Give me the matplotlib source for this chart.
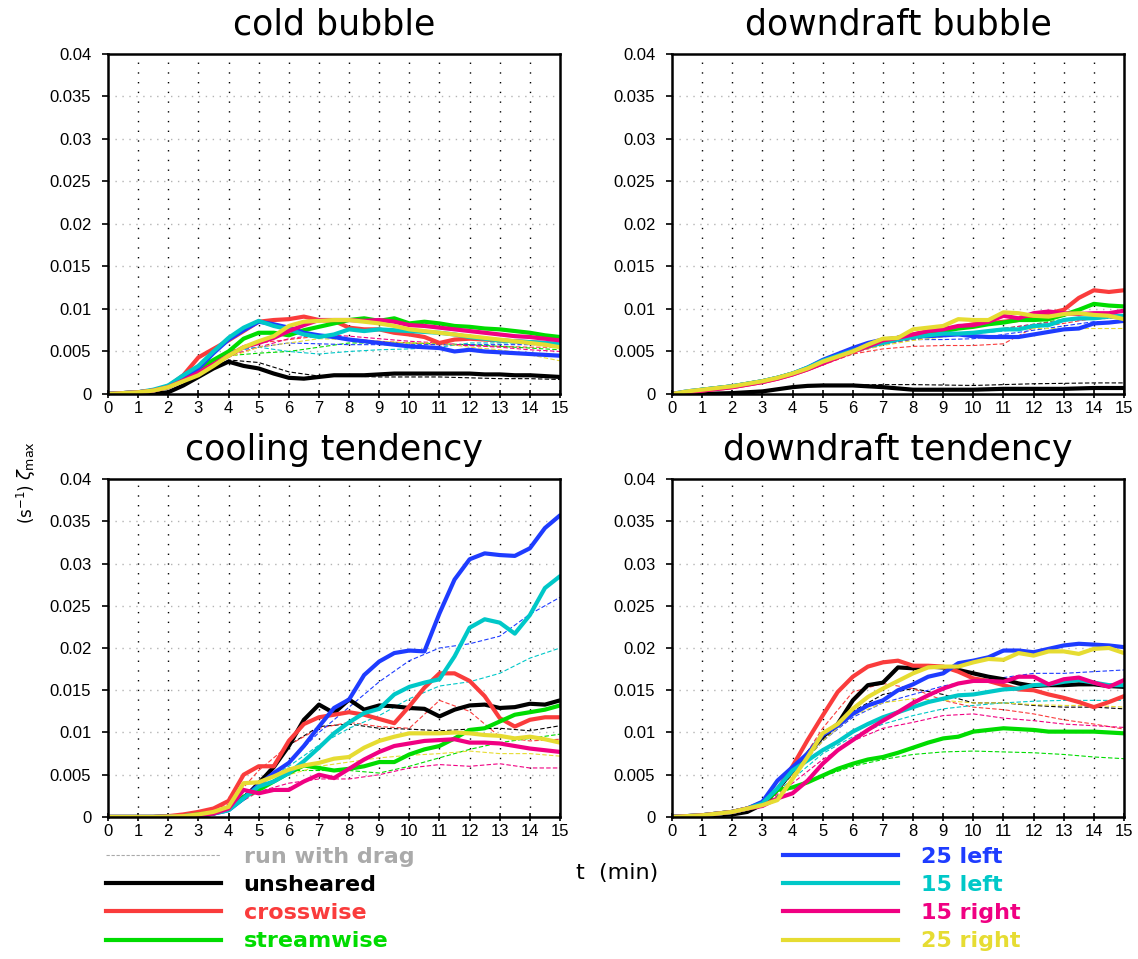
import numpy as np
import matplotlib
matplotlib.use('Agg')
import matplotlib.pyplot as plt
from matplotlib.lines import Line2D

# time axis (min): model output every 0.5 min, drag runs read every 1 min
t = np.linspace(0, 15, 31)
t_drag = np.arange(16)

names = ['unsheared', 'crosswise', 'streamwise', '25 left', '15 left', '15 right', '25 right']
colors = ['#000000', '#fa3c3c', '#00dc00', '#1e3cff', '#00c8c8', '#f00082', '#e6dc32']
titles = ['cold bubble', 'downdraft bubble', 'cooling tendency', 'downdraft tendency']

# max vorticity, units of 1e-3 s^-1 (rows in the order of `names`)
cold_bubble = [
    [0, 0, 0, 0, 0.2, 1.0, 2.0, 3.0, 3.8, 3.3, 3.0, 2.4, 1.9, 1.8, 2.0, 2.2, 2.2, 2.2, 2.3, 2.4, 2.4, 2.4, 2.4, 2.4, 2.4, 2.3, 2.3, 2.2, 2.2, 2.1, 2.0],
    [0, 0.1, 0.2, 0.4, 0.9, 2.2, 4.3, 5.3, 6.3, 7.4, 8.5, 8.7, 8.8, 9.1, 8.7, 8.6, 7.8, 7.6, 7.6, 7.2, 7.0, 6.7, 6.0, 6.4, 6.5, 6.4, 6.3, 6.2, 6.1, 6.0, 5.8],
    [0, 0.1, 0.2, 0.4, 0.8, 1.8, 3.0, 4.0, 5.0, 6.5, 7.2, 7.2, 6.9, 7.5, 7.9, 8.3, 8.7, 8.9, 8.6, 8.9, 8.3, 8.5, 8.3, 8.0, 7.9, 7.7, 7.6, 7.4, 7.2, 6.9, 6.7],
    [0, 0.1, 0.2, 0.4, 0.9, 2.0, 3.0, 4.8, 6.4, 7.5, 8.5, 8.2, 7.8, 7.2, 6.9, 6.7, 6.4, 6.2, 6.0, 5.8, 5.6, 5.5, 5.4, 5.0, 5.2, 5.0, 4.9, 4.8, 4.7, 4.6, 4.5],
    [0, 0.1, 0.2, 0.5, 1.0, 2.2, 3.3, 5.0, 6.6, 7.8, 8.6, 8.0, 7.6, 7.0, 6.7, 7.0, 7.6, 7.4, 7.6, 7.5, 7.4, 7.3, 7.2, 7.0, 6.7, 6.5, 6.3, 6.2, 6.1, 6.0, 5.9],
    [0, 0.1, 0.2, 0.4, 0.8, 1.6, 2.5, 3.5, 4.5, 5.5, 6.0, 6.6, 7.4, 8.1, 8.7, 8.7, 8.7, 8.6, 8.7, 8.5, 8.1, 8.0, 7.8, 7.6, 7.4, 7.2, 7.0, 6.8, 6.7, 6.5, 6.3],
    [0, 0.1, 0.2, 0.4, 0.8, 1.5, 2.2, 3.3, 4.5, 5.5, 6.2, 6.8, 8.0, 8.5, 8.6, 8.7, 8.7, 8.5, 8.3, 8.0, 7.6, 7.4, 7.2, 7.0, 6.8, 6.6, 6.4, 6.2, 6.0, 5.8, 5.5],
]
cold_bubble_drag = [
    [0, 0, 0.2, 2.0, 4.0, 3.7, 2.6, 2.1, 2.1, 2.0, 2.0, 2.0, 1.9, 1.8, 1.8, 1.7],
    [0, 0.2, 0.9, 3.0, 5.0, 6.0, 6.4, 6.8, 6.5, 6.2, 6.0, 5.8, 5.7, 5.6, 5.5, 5.5],
    [0, 0.2, 0.8, 2.8, 4.5, 4.8, 5.0, 5.5, 6.0, 6.0, 6.0, 5.9, 5.8, 5.6, 5.4, 5.2],
    [0, 0.2, 0.9, 3.0, 5.0, 5.5, 6.0, 5.9, 5.8, 5.8, 5.8, 5.8, 5.8, 5.8, 5.8, 5.8],
    [0, 0.2, 0.9, 3.0, 5.0, 5.5, 5.0, 4.7, 5.0, 5.2, 5.3, 5.5, 6.0, 6.0, 6.0, 6.0],
    [0, 0.2, 0.8, 2.6, 4.5, 5.5, 6.5, 7.0, 6.8, 6.5, 6.2, 6.0, 5.7, 5.5, 5.2, 5.0],
    [0, 0.2, 0.8, 2.5, 4.3, 5.5, 6.0, 6.5, 6.4, 6.2, 6.0, 6.0, 5.5, 5.2, 4.6, 3.9],
]

downdraft_bubble = [
    [0, 0, 0, 0.05, 0.1, 0.2, 0.3, 0.55, 0.8, 0.95, 1.0, 1.0, 1.0, 0.9, 0.8, 0.65, 0.5, 0.5, 0.5, 0.5, 0.5, 0.55, 0.6, 0.6, 0.6, 0.6, 0.6, 0.65, 0.7, 0.7, 0.7],
    [0, 0.2, 0.4, 0.6, 0.8, 1.1, 1.4, 1.8, 2.3, 2.9, 3.6, 4.3, 5.0, 5.6, 6.2, 6.6, 7.0, 7.3, 7.6, 7.9, 8.2, 8.3, 8.5, 8.7, 9.1, 9.5, 9.9, 11.3, 12.2, 12.0, 12.2],
    [0, 0.2, 0.5, 0.7, 0.9, 1.2, 1.5, 1.9, 2.4, 3.0, 3.8, 4.5, 5.1, 5.6, 6.2, 6.6, 6.9, 7.1, 7.4, 7.7, 7.9, 8.2, 8.4, 8.7, 8.7, 8.8, 9.3, 9.9, 10.6, 10.4, 10.3],
    [0, 0.3, 0.5, 0.7, 0.9, 1.2, 1.5, 1.9, 2.4, 3.1, 4.0, 4.7, 5.4, 6.0, 6.4, 6.6, 6.8, 6.8, 6.9, 7.0, 6.8, 6.7, 6.7, 6.7, 7.0, 7.3, 7.6, 7.7, 8.3, 8.4, 8.6],
    [0, 0.3, 0.5, 0.7, 0.9, 1.2, 1.5, 1.9, 2.4, 3.1, 3.9, 4.5, 5.1, 5.6, 6.0, 6.4, 6.7, 6.9, 7.1, 7.1, 7.2, 7.4, 7.6, 7.6, 8.0, 8.1, 8.7, 8.9, 8.9, 9.1, 9.2],
    [0, 0.2, 0.4, 0.6, 0.8, 1.1, 1.4, 1.8, 2.3, 2.9, 3.6, 4.3, 5.0, 5.6, 6.3, 6.6, 7.0, 7.4, 7.6, 8.0, 8.1, 8.5, 9.2, 8.9, 9.5, 9.7, 9.5, 9.4, 9.5, 9.5, 9.8],
    [0, 0.3, 0.5, 0.7, 0.9, 1.2, 1.5, 1.9, 2.4, 3.0, 3.8, 4.4, 5.0, 5.8, 6.5, 6.6, 7.6, 7.8, 8.0, 8.8, 8.7, 8.7, 9.6, 9.5, 9.2, 9.1, 9.4, 9.5, 9.3, 9.2, 8.8],
]
downdraft_bubble_drag = [
    [0, 0, 0.1, 0.4, 0.8, 1.0, 1.05, 1.1, 1.1, 1.05, 1.0, 1.1, 1.2, 1.25, 1.3, 1.3],
    [0, 0.4, 0.8, 1.4, 2.2, 3.4, 4.7, 5.3, 5.6, 5.7, 5.7, 5.9, 7.8, 8.3, 8.9, 9.1],
    [0, 0.4, 0.8, 1.5, 2.3, 3.7, 5.0, 5.9, 6.5, 6.9, 7.2, 7.7, 8.2, 8.8, 9.0, 9.3],
    [0, 0.4, 0.8, 1.5, 2.3, 3.7, 5.0, 5.9, 6.4, 6.4, 6.5, 7.0, 7.5, 8.0, 8.5, 8.5],
    [0, 0.4, 0.8, 1.5, 2.3, 3.7, 5.0, 5.9, 6.5, 6.8, 7.1, 7.4, 7.8, 8.6, 9.0, 9.3],
    [0, 0.4, 0.8, 1.4, 2.2, 3.5, 4.8, 5.8, 6.5, 6.9, 7.2, 7.7, 8.2, 8.6, 8.8, 9.0],
    [0, 0.4, 0.8, 1.5, 2.3, 3.6, 4.9, 5.7, 6.3, 6.7, 7.2, 7.5, 7.7, 7.7, 7.7, 7.7],
]

cooling_tendency = [
    [0, 0, 0, 0, 0, 0, 0.1, 0.4, 1.0, 2.2, 4.0, 5.9, 8.4, 11.5, 13.3, 12.3, 13.9, 12.7, 13.2, 13.1, 12.9, 12.8, 11.9, 12.7, 13.2, 13.3, 12.9, 13.0, 13.4, 13.3, 13.8],
    [0, 0, 0, 0, 0.1, 0.3, 0.6, 1.0, 1.9, 5.0, 6.0, 6.0, 9.0, 11.0, 11.8, 12.1, 12.4, 12.1, 11.6, 11.1, 13.1, 15.3, 17.0, 17.0, 16.1, 14.3, 11.7, 10.7, 11.5, 11.8, 11.8],
    [0, 0, 0, 0, 0.05, 0.1, 0.3, 0.5, 1.0, 2.4, 3.2, 4.2, 5.2, 6.1, 5.8, 5.5, 5.7, 6.0, 6.5, 6.5, 7.4, 8.0, 8.4, 9.3, 10.3, 10.5, 11.3, 12.1, 12.4, 12.7, 13.2],
    [0, 0, 0, 0, 0.05, 0.1, 0.2, 0.4, 0.8, 2.2, 3.8, 5.2, 6.4, 8.4, 10.7, 12.9, 13.9, 16.8, 18.4, 19.4, 19.7, 19.6, 24.1, 28.1, 30.5, 31.2, 31.0, 30.9, 31.8, 34.2, 35.7],
    [0, 0, 0, 0, 0.05, 0.1, 0.2, 0.4, 0.8, 2.2, 3.6, 4.2, 5.2, 6.6, 8.2, 9.9, 11.2, 12.3, 12.8, 14.5, 15.4, 15.9, 16.3, 19.0, 22.4, 23.4, 23.0, 21.7, 23.9, 27.1, 28.5],
    [0, 0, 0, 0, 0.05, 0.1, 0.2, 0.4, 1.0, 3.2, 2.8, 3.2, 3.2, 4.2, 5.0, 4.6, 5.7, 6.8, 7.7, 8.4, 8.7, 9.0, 9.1, 9.2, 8.8, 8.8, 8.7, 8.4, 8.1, 7.9, 7.7],
    [0, 0, 0, 0, 0.05, 0.1, 0.3, 0.6, 1.2, 4.0, 4.1, 4.8, 5.6, 6.1, 6.4, 6.9, 7.1, 8.2, 9.0, 9.5, 9.9, 9.9, 9.9, 10.0, 9.9, 9.7, 9.6, 9.3, 9.5, 9.2, 8.8],
]
cooling_tendency_drag = [
    [0, 0, 0, 0.2, 1.0, 4.0, 8.5, 10.7, 11.0, 10.5, 10.4, 10.2, 10.4, 10.5, 10.2, 10.8],
    [0, 0, 0.05, 0.4, 1.5, 5.5, 8.5, 10.5, 11.2, 10.7, 10.5, 13.8, 12.5, 9.5, 9.0, 9.2],
    [0, 0, 0.05, 0.3, 1.0, 4.0, 5.5, 5.5, 5.5, 5.2, 6.0, 7.0, 8.0, 8.8, 9.3, 9.8],
    [0, 0, 0.05, 0.3, 1.0, 4.0, 6.5, 10.0, 13.0, 16.0, 18.5, 20.0, 20.5, 21.4, 24.0, 26.0],
    [0, 0, 0.05, 0.3, 1.0, 3.8, 6.0, 8.5, 10.5, 12.0, 14.0, 15.5, 16.0, 17.0, 18.8, 20.0],
    [0, 0, 0.05, 0.3, 0.9, 3.0, 4.0, 4.5, 4.5, 5.0, 5.8, 6.2, 6.0, 6.3, 5.8, 5.8],
    [0, 0, 0.05, 0.3, 0.9, 3.5, 5.0, 6.0, 6.5, 7.0, 7.3, 7.5, 7.8, 7.5, 7.5, 7.2],
]

downdraft_tendency = [
    [0, 0.05, 0.1, 0.2, 0.3, 0.6, 1.5, 3.2, 5.5, 7.5, 9.5, 11.0, 13.8, 15.6, 15.9, 17.7, 17.6, 17.8, 17.7, 17.4, 17.0, 16.6, 16.3, 15.8, 15.5, 15.6, 15.6, 15.7, 15.7, 15.5, 15.4],
    [0, 0.1, 0.2, 0.4, 0.6, 1.0, 1.7, 3.2, 6.0, 9.1, 12.0, 14.8, 16.6, 17.8, 18.3, 18.5, 17.9, 17.9, 17.8, 17.2, 16.4, 16.1, 15.6, 15.1, 15.0, 14.5, 14.1, 13.6, 13.0, 13.6, 14.3],
    [0, 0.1, 0.2, 0.4, 0.6, 1.0, 1.5, 3.2, 3.5, 4.1, 4.9, 5.7, 6.3, 6.8, 7.1, 7.6, 8.2, 8.8, 9.3, 9.5, 10.1, 10.3, 10.5, 10.4, 10.3, 10.1, 10.1, 10.1, 10.1, 10.0, 9.9],
    [0, 0.1, 0.2, 0.4, 0.6, 1.0, 1.8, 4.3, 5.9, 7.5, 9.7, 10.8, 12.2, 13.2, 13.8, 15.0, 15.7, 16.6, 17.0, 18.2, 18.5, 18.9, 19.7, 19.7, 19.5, 19.9, 20.3, 20.5, 20.4, 20.3, 20.1],
    [0, 0.1, 0.2, 0.4, 0.6, 1.0, 1.6, 3.4, 5.5, 6.7, 7.9, 8.9, 10.1, 11.0, 11.8, 12.4, 13.0, 13.6, 14.0, 14.4, 14.5, 14.8, 15.1, 15.2, 15.6, 15.7, 16.0, 16.2, 15.9, 15.6, 15.6],
    [0, 0.1, 0.2, 0.4, 0.6, 1.0, 1.3, 2.2, 2.8, 4.3, 6.3, 7.9, 9.1, 10.3, 11.4, 12.4, 13.5, 14.4, 15.2, 15.8, 16.1, 16.1, 16.0, 16.6, 16.6, 15.7, 16.3, 16.5, 15.9, 15.4, 16.2],
    [0, 0.1, 0.2, 0.4, 0.6, 1.0, 1.4, 2.0, 4.5, 7.1, 9.9, 11.0, 12.8, 14.2, 15.2, 16.1, 17.0, 17.7, 17.8, 17.8, 18.3, 18.7, 18.6, 19.4, 19.1, 19.6, 19.6, 19.3, 19.9, 20.0, 19.4],
]
downdraft_tendency_drag = [
    [0, 0.2, 0.5, 1.5, 5.0, 9.0, 12.5, 14.5, 15.2, 14.5, 13.5, 13.5, 13.2, 13.0, 13.0, 12.8],
    [0, 0.2, 0.6, 1.6, 5.0, 10.5, 14.8, 15.8, 15.2, 13.8, 13.0, 12.7, 12.2, 11.5, 11.0, 10.4],
    [0, 0.2, 0.6, 1.5, 3.5, 4.8, 6.0, 6.8, 7.4, 7.7, 7.8, 7.7, 7.6, 7.4, 7.1, 6.9],
    [0, 0.2, 0.6, 1.6, 5.5, 9.0, 11.8, 13.5, 14.5, 15.5, 16.2, 16.5, 17.0, 17.0, 17.2, 17.4],
    [0, 0.2, 0.6, 1.5, 4.5, 7.5, 9.5, 11.0, 12.0, 12.8, 13.2, 13.5, 13.7, 13.8, 13.8, 13.8],
    [0, 0.2, 0.6, 1.4, 4.0, 6.8, 9.0, 10.5, 11.2, 12.0, 12.2, 11.7, 11.4, 11.0, 10.8, 10.6],
    [0, 0.2, 0.6, 1.5, 5.0, 9.0, 12.0, 13.5, 14.0, 13.8, 13.5, 13.5, 13.3, 13.2, 13.2, 13.0],
]

runs = [cold_bubble, downdraft_bubble, cooling_tendency, downdraft_tendency]
drags = [cold_bubble_drag, downdraft_bubble_drag, cooling_tendency_drag, downdraft_tendency_drag]

yticks = [0, 0.005, 0.01, 0.015, 0.02, 0.025, 0.03, 0.035, 0.04]
ylabels = ['0', '0.005', '0.01', '0.015', '0.02', '0.025', '0.03', '0.035', '0.04']

fig = plt.figure(figsize=(11.38, 9.59), dpi=100)
boxes = [[0.0949, 0.5892, 0.3972, 0.3545], [0.5905, 0.5892, 0.3972, 0.3545],
         [0.0949, 0.1481, 0.3972, 0.3524], [0.5905, 0.1481, 0.3972, 0.3524]]

for box, title, run, drag in zip(boxes, titles, runs, drags):
    ax = fig.add_axes(box)
    for i in range(1, 15):
        ax.axvline(i, color='black', lw=1.0, ls=(0, (1, 6)), zorder=0)
    for v in yticks[1:-1]:
        ax.axhline(v, color='#b4b4b4', lw=1.0, ls=(0, (1, 4)), zorder=0)
    for k in range(len(names)):
        ax.plot(t_drag, np.array(drag[k]) * 1e-3, color=colors[k], lw=0.8, ls=(0, (4, 2)))
    for k in range(len(names)):
        ax.plot(t, np.array(run[k]) * 1e-3, color=colors[k], lw=3,
                solid_joinstyle='round', solid_capstyle='round')
    ax.set_xlim(0, 15)
    ax.set_ylim(0, 0.04)
    ax.set_xticks(range(16))
    ax.set_yticks(yticks)
    ax.set_yticklabels(ylabels)
    for lab in ax.get_xticklabels() + ax.get_yticklabels():
        lab.set_family('Liberation Sans')
        lab.set_fontsize(12)
    ax.tick_params(axis='x', direction='inout', length=6, width=1.2, pad=2)
    ax.tick_params(axis='y', direction='out', length=4, width=1.2, pad=8)
    for s in ax.spines.values():
        s.set_linewidth(1.8)
    ax.set_title(title, fontsize=25, pad=14, family='DejaVu Sans')

fig.text(0.023, 0.520, r'$\zeta_{\mathrm{max}}$', rotation=90, fontsize=13, ha='center', va='center')
fig.text(0.023, 0.474, r'(s$^{-1}$)', rotation=90, fontsize=12, ha='center', va='center')
fig.text(0.542, 0.090, 't  (min)', fontsize=16, ha='center', va='center', family='DejaVu Sans')

# legends
drag_handle = Line2D([], [], color='#aaaaaa', lw=0.8, ls=(0, (3, 1.5)))
left_handles = [drag_handle] + [Line2D([], [], color=colors[k], lw=3) for k in range(3)]
left_labels = ['run with drag'] + names[:3]
right_handles = [Line2D([], [], color=colors[k], lw=3) for k in range(3, 7)]
right_labels = names[3:]

prop = {'family': 'DejaVu Sans', 'weight': 'bold', 'size': 16}
leg1 = fig.legend(left_handles, left_labels, loc='upper left', bbox_to_anchor=(0.093, 0.117),
                  frameon=False, prop=prop, handlelength=5.2, handletextpad=1.0,
                  labelspacing=0.37, borderpad=0, borderaxespad=0)
for txt, c in zip(leg1.get_texts(), ['#aaaaaa'] + colors[:3]):
    txt.set_color(c)
leg2 = fig.legend(right_handles, right_labels, loc='upper left', bbox_to_anchor=(0.688, 0.117),
                  frameon=False, prop=prop, handlelength=5.2, handletextpad=1.0,
                  labelspacing=0.37, borderpad=0, borderaxespad=0)
for txt, c in zip(leg2.get_texts(), colors[3:]):
    txt.set_color(c)

fig.savefig('out.png', dpi=100)
